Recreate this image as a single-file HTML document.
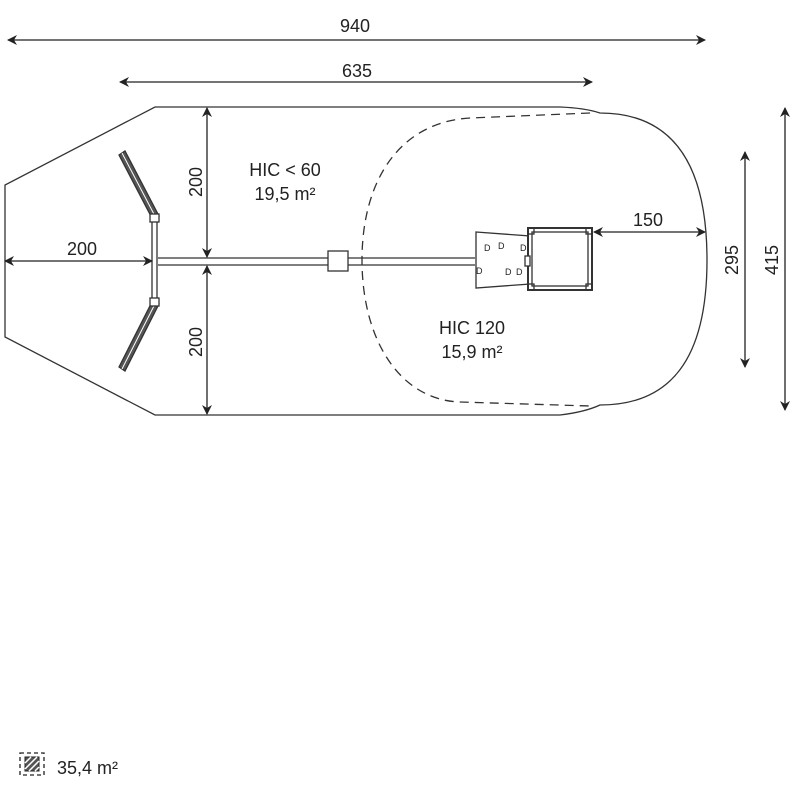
<!DOCTYPE html>
<html><head><style>body{margin:0;background:#fff}svg{display:block}text{font-family:"Liberation Sans",sans-serif;font-size:18px;fill:#222}</style></head>
<body>
<svg width="800" height="800" viewBox="0 0 800 800" xmlns="http://www.w3.org/2000/svg">
<defs>
<marker id="a" markerWidth="10" markerHeight="10" refX="9" refY="5" orient="auto-start-reverse" markerUnits="userSpaceOnUse"><path d="M0,0 L10,5 L0,10 L3,5 Z" fill="#222"/></marker>
</defs>
<g fill="none" stroke="#333" stroke-width="1.3">
<path d="M155,107 L560,107 Q585,108 600,113 C670,113 707,160 707,260 C707,360 670,405 600,405 Q585,412 560,415 L155,415 L5,337 L5,185 Z"/>
<path d="M590,113 L470,118 C400,122 362,180 362,260 C362,340 400,400 460,402 L590,406" stroke-dasharray="9,6"/>
<line x1="158" y1="258" x2="475" y2="258"/><line x1="158" y1="265" x2="475" y2="265"/>
<rect x="328" y="251" width="20" height="20" fill="#fff"/>
<line x1="152" y1="218" x2="152" y2="302"/><line x1="157" y1="218" x2="157" y2="302"/>
<path d="M119,155 L125,151 L159,216 L153,220 Z" fill="#555" stroke-width="1.3"/>
<path d="M122,153 L156,218" stroke="#fff" stroke-width="1"/>
<path d="M119,367 L125,371 L159,304 L153,300 Z" fill="#555" stroke-width="1.3"/>
<path d="M122,369 L156,302" stroke="#fff" stroke-width="1"/>
<rect x="150" y="214" width="9" height="8" fill="#fff"/><rect x="150" y="298" width="9" height="8" fill="#fff"/>
<path d="M476,232 L530,236 L530,284 L476,288 Z" fill="#fff"/>
<rect x="528" y="228" width="64" height="62" fill="#fff" stroke-width="2"/>
<rect x="532" y="232" width="56" height="54"/>
<rect x="528" y="228" width="6" height="6"/><rect x="586" y="228" width="6" height="6"/><rect x="528" y="284" width="6" height="6"/><rect x="586" y="284" width="6" height="6"/>
<rect x="525" y="256" width="5" height="10" fill="#fff"/>
</g>
<g><text x="484" y="251" style="font-size:9px">D</text><text x="498" y="249" style="font-size:9px">D</text><text x="520" y="251" style="font-size:9px">D</text><text x="476" y="274" style="font-size:9px">D</text><text x="505" y="275" style="font-size:9px">D</text><text x="516" y="275" style="font-size:9px">D</text></g>
<g stroke="#222" stroke-width="1.3" marker-start="url(#a)" marker-end="url(#a)">
<line x1="8" y1="40" x2="705" y2="40"/>
<line x1="120" y1="82" x2="592" y2="82"/>
<line x1="5" y1="261" x2="152" y2="261"/>
<line x1="207" y1="108" x2="207" y2="257"/>
<line x1="207" y1="266" x2="207" y2="414"/>
<line x1="594" y1="232" x2="705" y2="232"/>
<line x1="745" y1="152" x2="745" y2="367"/>
<line x1="785" y1="108" x2="785" y2="410"/>
</g>
<text x="355" y="32" text-anchor="middle">940</text>
<text x="357" y="77" text-anchor="middle">635</text>
<text x="82" y="255" text-anchor="middle">200</text>
<text x="648" y="226" text-anchor="middle">150</text>
<text transform="translate(202,182) rotate(-90)" text-anchor="middle">200</text>
<text transform="translate(202,342) rotate(-90)" text-anchor="middle">200</text>
<text transform="translate(738,260) rotate(-90)" text-anchor="middle">295</text>
<text transform="translate(778,260) rotate(-90)" text-anchor="middle">415</text>
<text x="285" y="176" text-anchor="middle">HIC &lt; 60</text>
<text x="285" y="200" text-anchor="middle">19,5 m²</text>
<text x="472" y="334" text-anchor="middle">HIC 120</text>
<text x="472" y="358" text-anchor="middle">15,9 m²</text>
<rect x="20" y="753" width="24" height="22" fill="none" stroke="#222" stroke-dasharray="4,3" stroke-width="1.3"/>
<rect x="25" y="757" width="14" height="14" fill="#555" stroke="#222"/>
<path d="M25,763 L31,757 M25,769 L37,757 M29,771 L39,761 M35,771 L39,767" stroke="#fff" stroke-width="1.5"/>
<text x="57" y="774">35,4 m²</text>
</svg>
</body></html>
